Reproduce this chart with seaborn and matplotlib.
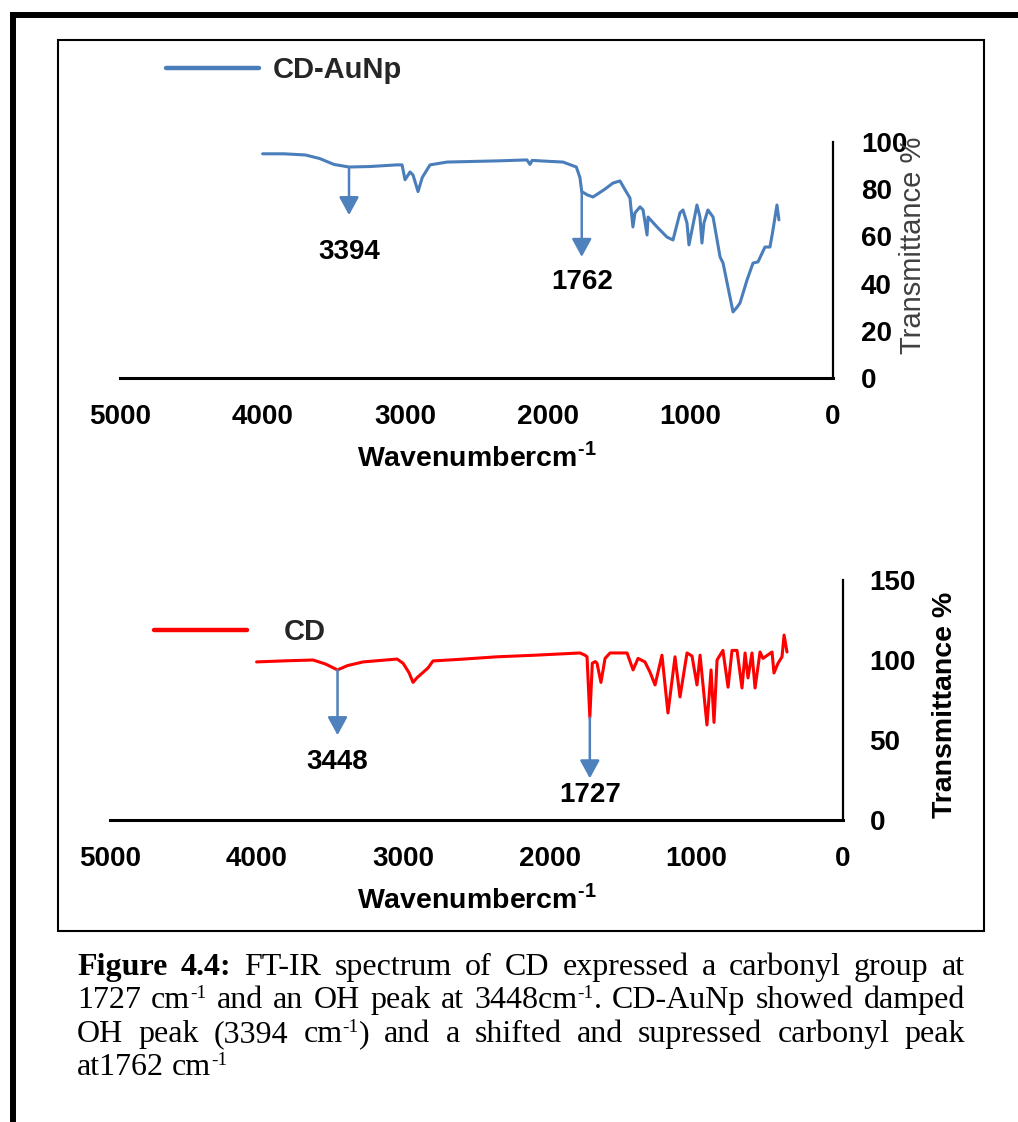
import numpy as np
import matplotlib
matplotlib.use("Agg")
import matplotlib.pyplot as plt
import seaborn as sns
from matplotlib.lines import Line2D
from matplotlib.patches import Rectangle

# ---- spectra: wavenumber (cm-1) and transmittance (%) ----
cdau_wn = [4000, 3850, 3700, 3600, 3500, 3394, 3250, 3060, 3022, 3001,
           2966, 2945, 2910, 2880, 2826, 2707, 2500, 2356, 2146, 2125,
           2110, 1990, 1893, 1800, 1775, 1762, 1720, 1683, 1600, 1543,
           1494, 1445, 1424, 1403, 1389, 1353, 1332, 1304, 1297, 1234,
           1164, 1122, 1073, 1052, 1024, 1010, 989, 954, 933, 919,
           905, 877, 841, 792, 771, 701, 673, 652, 603, 561,
           526, 477, 442, 421, 393, 379]
cdau_t = [95, 95, 94.5, 93, 90.5, 89.4, 89.6, 90.3, 90.3, 84,
          87.3, 86, 79, 85, 90.3, 91.5, 91.8, 92, 92.4, 90.5,
          92.2, 91.8, 91.5, 89.4, 85, 79, 77.5, 76.7, 80, 82.6,
          83.5, 78.4, 76.3, 64, 70, 72.5, 71.2, 60.6, 68.2, 64,
          59.7, 58.5, 70, 71.2, 65.7, 56.4, 62.7, 73.3, 68.2, 57.2,
          65.7, 71.2, 68.2, 51.3, 48.7, 28, 30, 31.8, 41.5, 48.7,
          49.2, 55.5, 55.5, 62.7, 73.3, 67]

cd_wn = [4000, 3800, 3615, 3530, 3448, 3380, 3274, 3042, 3001, 2960,
         2933, 2905, 2885, 2831, 2797, 2600, 2360, 2100, 1794, 1760,
         1746, 1727, 1710, 1690, 1678, 1651, 1623, 1589, 1473, 1432,
         1398, 1351, 1317, 1282, 1235, 1194, 1146, 1112, 1064, 1030,
         996, 975, 928, 900, 880, 859, 819, 784, 757, 723,
         689, 668, 648, 621, 600, 566, 546, 484, 471, 443,
         416, 402, 382]
cd_t = [98.8, 99.5, 100, 97.5, 93.8, 96.5, 98.8, 100.6, 98, 92,
        86, 89, 90.6, 95, 99.4, 100.5, 102, 103, 104.4, 103,
        102, 64, 98, 99, 98, 86, 101, 104.4, 104.4, 93.8,
        101, 98.8, 92.5, 84.4, 103, 66.9, 102, 76.9, 104.4, 102.5,
        84.4, 103, 59.4, 93.8, 61, 100, 106, 83, 106, 106,
        82.5, 104.4, 88.8, 104.4, 82.5, 105, 101, 105, 91.9, 98,
        102, 115.6, 105]

wn_ticks = [5000, 4000, 3000, 2000, 1000, 0]
cdau_yticks = [0, 20, 40, 60, 80, 100]
cd_yticks = [0, 50, 100, 150]

cdau_peaks = [3394, 1762]
cd_peaks = [3448, 1727]

BLUE = "#4A7EBB"
RED = "#FF0000"
ARROW = "#4F81BD"

sns.set_theme(style="white")
plt.rcParams["font.family"] = ["Liberation Sans", "DejaVu Sans"]
plt.rcParams["mathtext.fontset"] = "custom"
plt.rcParams["mathtext.rm"] = "Liberation Sans:bold"
plt.rcParams["mathtext.bf"] = "Liberation Sans:bold"

W, H = 1018, 1122
fig = plt.figure(figsize=(W / 100, H / 100), dpi=100)
fig.patch.set_facecolor("white")

ax1 = fig.add_axes([120 / W, 1 - 378 / H, 713 / W, 236 / H])
ax2 = fig.add_axes([110 / W, 1 - 820 / H, 733 / W, 240 / H])

sns.lineplot(x=cdau_wn, y=cdau_t, sort=False, estimator=None, color=BLUE,
             lw=2.2, ax=ax1, label="CD-AuNp")
sns.lineplot(x=cd_wn, y=cd_t, sort=False, estimator=None, color=RED,
             lw=2.2, ax=ax2, label="CD")

TICK = 20


def style_axis(ax, yticks, ypad):
    ax.set_facecolor("none")
    ax.grid(False)
    ax.set_xlim(5000, 0)
    ax.set_ylim(yticks[0], yticks[-1])
    ax.set_xticks(wn_ticks)
    ax.set_yticks(yticks)
    ax.yaxis.tick_right()
    ax.yaxis.set_label_position("right")
    for side in ("top", "left"):
        ax.spines[side].set_visible(False)
    ax.spines["bottom"].set_linewidth(2.2)
    ax.spines["right"].set_linewidth(1.6)
    for side in ("bottom", "right"):
        ax.spines[side].set_color("black")
    ax.tick_params(axis="x", length=0, pad=19, labelsize=TICK)
    ax.tick_params(axis="y", length=0, pad=ypad, labelsize=TICK)
    for lab in ax.get_xticklabels() + ax.get_yticklabels():
        lab.set_fontweight("bold")
        lab.set_color("black")
    ax.set_xlabel(r"Wavenumbercm$^{\text{-}1}$", fontsize=20.5,
                  fontweight="bold", color="black", labelpad=9)


style_axis(ax1, cdau_yticks, 20)
style_axis(ax2, cd_yticks, 19)

ax1.set_ylabel("Transmittance %", fontsize=21, color="#404040",
               rotation=90, ha="center", va="center")
ax1.yaxis.set_label_coords((913 - 120) / 713, (378 - 245) / 236)
ax2.set_ylabel("Transmittance %", fontsize=20.5, fontweight="bold",
               color="black", rotation=90, ha="center", va="center")
ax2.yaxis.set_label_coords((945 - 110) / 733, (820 - 705) / 240)

# legends placed above each spectrum
leg1 = ax1.legend(loc="center left", bbox_to_anchor=(166 / W, 1 - 70 / H),
                  bbox_transform=fig.transFigure, frameon=False,
                  handlelength=3.2, handletextpad=0.45, borderpad=0,
                  borderaxespad=0, prop=dict(weight="bold", size=21))
leg2 = ax2.legend(loc="center left", bbox_to_anchor=(154 / W, 1 - 632 / H),
                  bbox_transform=fig.transFigure, frameon=False,
                  handlelength=3.2, handletextpad=1.25, borderpad=0,
                  borderaxespad=0, prop=dict(weight="bold", size=21))
for leg in (leg1, leg2):
    for ln in leg.get_lines():
        ln.set_linewidth(3.2)


def mark_peak(ax, wn, spec_wn, spec_t, tip, label_y):
    start = np.interp(wn, spec_wn[::-1], spec_t[::-1])
    ax.annotate("", xy=(wn, tip), xytext=(wn, start),
                arrowprops=dict(arrowstyle="-|>,head_length=0.55,head_width=0.3",
                                color=ARROW, lw=1.8, shrinkA=0, shrinkB=0,
                                mutation_scale=20))
    ax.text(wn, label_y, str(wn), ha="center", va="center",
            fontsize=TICK, fontweight="bold", color="black")


mark_peak(ax1, cdau_peaks[0], cdau_wn, cdau_t, 69, 53.4)
mark_peak(ax1, cdau_peaks[1], cdau_wn, cdau_t, 51.3, 40.7)
mark_peak(ax2, cd_peaks[0], cd_wn, cd_t, 53, 36)
mark_peak(ax2, cd_peaks[1], cd_wn, cd_t, 26, 15.6)

# page borders
fig.add_artist(Line2D([10 / W, 1], [1 - 15 / H] * 2, lw=4.3, color="black",
                      transform=fig.transFigure, solid_capstyle="butt"))
fig.add_artist(Line2D([13 / W] * 2, [1 - 12 / H, 0], lw=4.3, color="black",
                      transform=fig.transFigure, solid_capstyle="butt"))
fig.add_artist(Rectangle((58 / W, 1 - 931 / H), 926 / W, 891 / H, fill=False,
                         lw=1.5, ec="black", transform=fig.transFigure))

# justified caption below the frame
caption = [
    [("Figure 4.4:", "b"), (" FT-IR spectrum of CD expressed a carbonyl group at", "r")],
    [("1727 cm", "r"), ("-1", "s"), (" and an OH peak at 3448cm", "r"), ("-1", "s"),
     (". CD-AuNp showed damped", "r")],
    [("OH peak (3394 cm", "r"), ("-1", "s"), (") and a shifted and supressed carbonyl peak", "r")],
    [("at1762 cm", "r"), ("-1", "s")],
]
CAP = 23
cap_style = {
    "r": dict(fontsize=CAP, fontweight="normal"),
    "b": dict(fontsize=CAP, fontweight="bold"),
    "s": dict(fontsize=CAP * 0.6, fontweight="normal"),
}
cap_rise = {"r": 0, "b": 0, "s": 10}
cap_left, cap_right = 77, 965
cap_baselines = [975, 1008, 1042, 1075]


def to_words(segs):
    words = [[]]
    for txt, kind in segs:
        for i, part in enumerate(txt.split(" ")):
            if i > 0:
                words.append([])
            if part:
                words[-1].append((part, kind))
    return [w for w in words if w]


renderer = fig.canvas.get_renderer()


def piece_width(txt, kind):
    t = fig.text(0, 0, txt, family=["Liberation Serif"], transform=None,
                 **cap_style[kind])
    w = t.get_window_extent(renderer).width
    t.remove()
    return w


space_w = piece_width("a a", "r") - piece_width("aa", "r")
for li, segs in enumerate(caption):
    words = to_words(segs)
    widths = [[piece_width(p, k) for p, k in w] for w in words]
    totals = [sum(ws) for ws in widths]
    last = li == len(caption) - 1
    gap = space_w if last else (cap_right - cap_left - sum(totals)) / (len(words) - 1)
    x = cap_left
    base = H - cap_baselines[li]
    for w, ws in zip(words, widths):
        for (p, k), pw in zip(w, ws):
            fig.text(x, base + cap_rise[k], p, family=["Liberation Serif"],
                     transform=None, va="baseline", ha="left", color="black",
                     **cap_style[k])
            x += pw
        x += gap

fig.savefig("out.png", dpi=100, facecolor="white")
